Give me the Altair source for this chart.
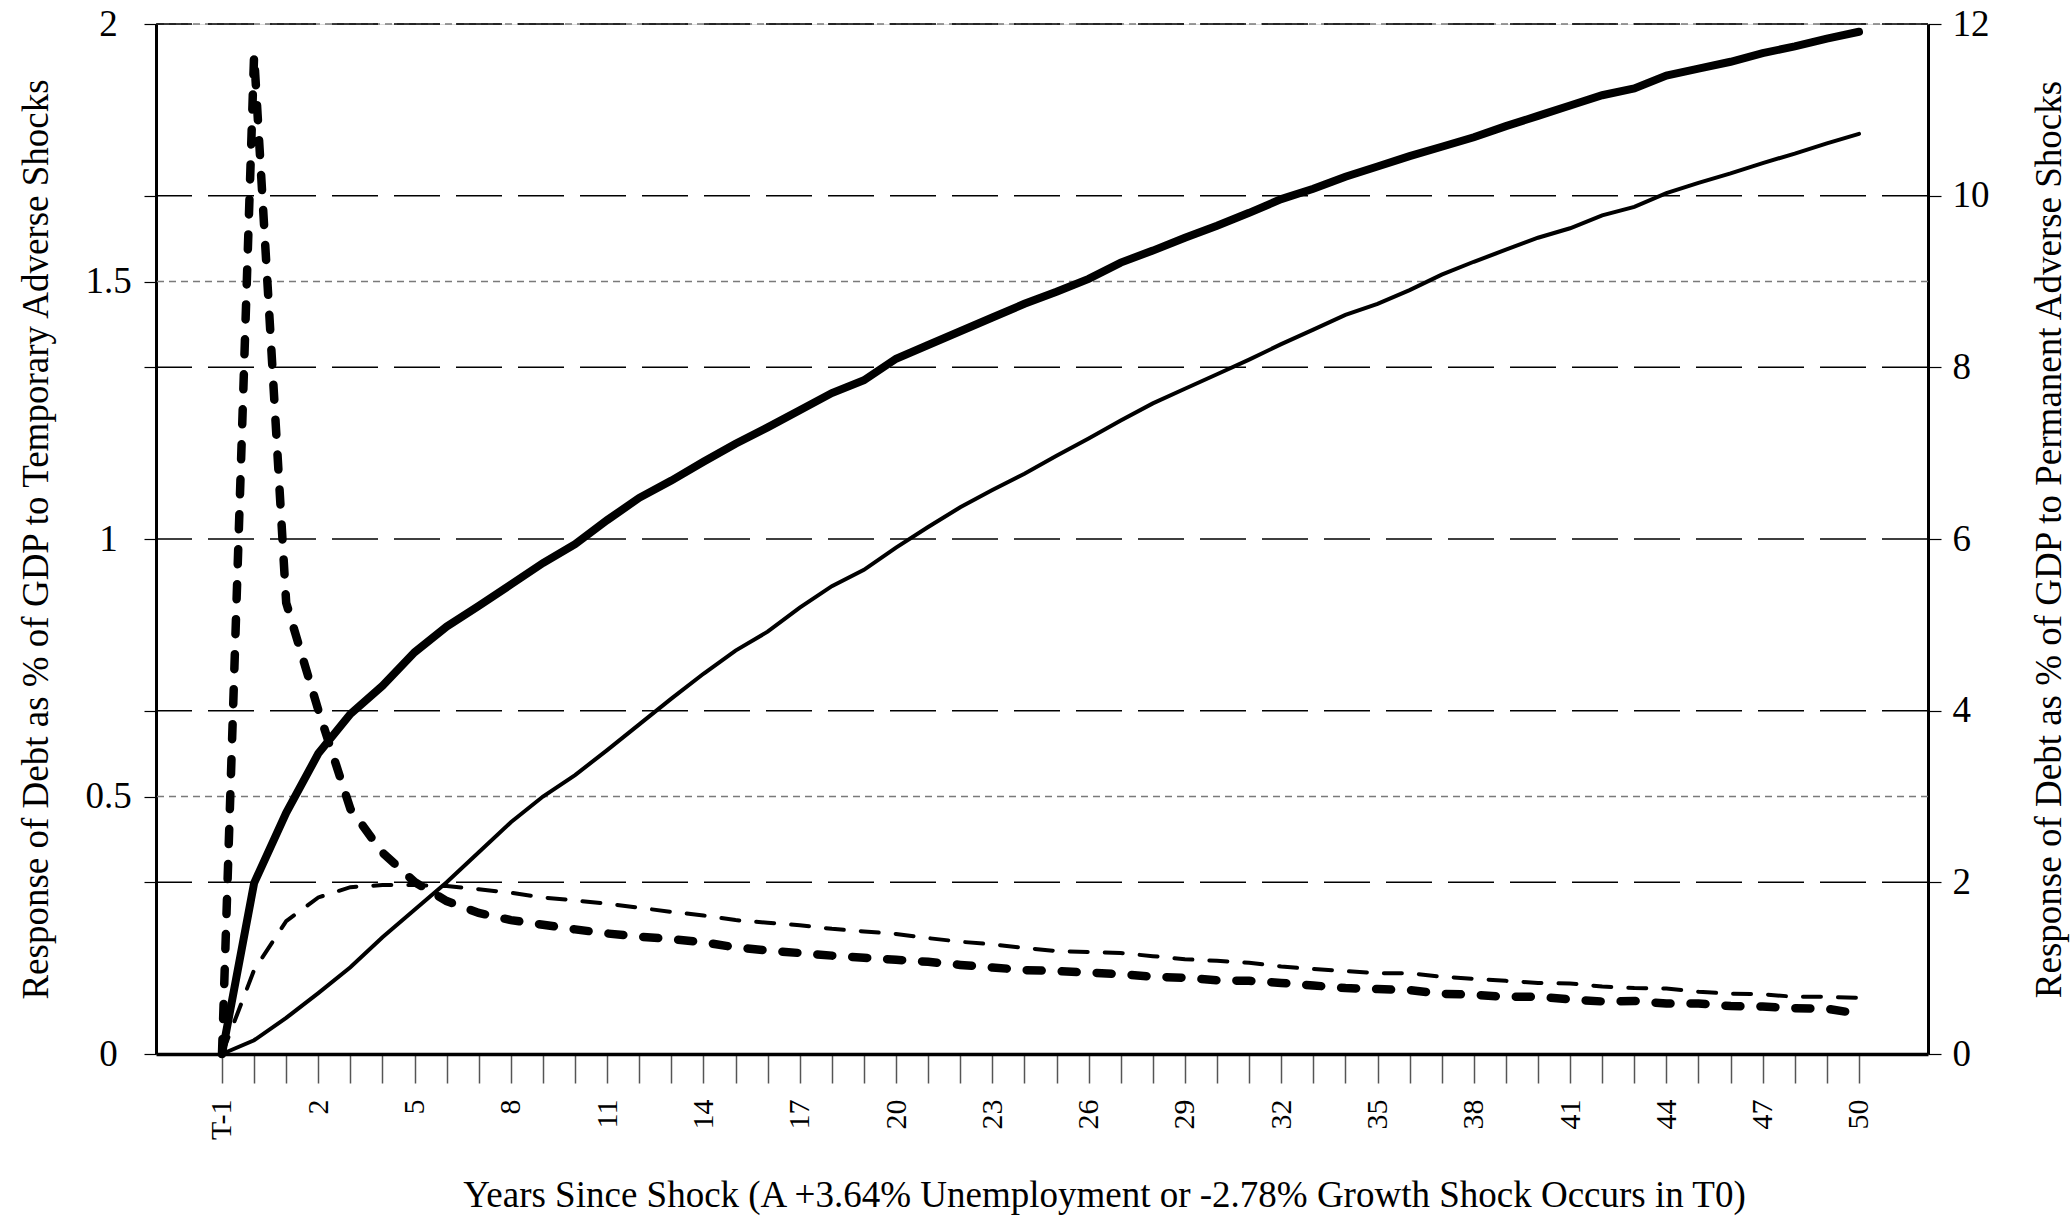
import json
import altair as alt
import pandas as pd

# Category labels along the horizontal axis (T-1, T0, then years 1..50)
categories = ["T-1", "T0", "1", "2", "3", "4", "5", "6", "7", "8", "9", "10",
              "11", "12", "13", "14", "15", "16", "17", "18", "19", "20",
              "21", "22", "23", "24", "25", "26", "27", "28", "29", "30",
              "31", "32", "33", "34", "35", "36", "37", "38", "39", "40",
              "41", "42", "43", "44", "45", "46", "47", "48", "49", "50"]

# Temporary shocks (left axis, % of GDP)
temp_heavy = [0, 1.94, 0.876, 0.668, 0.476, 0.391, 0.334, 0.297, 0.274, 0.260,
              0.251, 0.242, 0.234, 0.228, 0.223, 0.217, 0.207, 0.201, 0.196, 0.191,
              0.187, 0.183, 0.179, 0.173, 0.168, 0.163, 0.161, 0.158, 0.155, 0.150,
              0.148, 0.143, 0.142, 0.138, 0.133, 0.128, 0.126, 0.124, 0.117, 0.115,
              0.111, 0.111, 0.106, 0.102, 0.103, 0.098, 0.098, 0.093, 0.092, 0.089,
              0.088, 0.078]
temp_light = [0, 0.163, 0.258, 0.304, 0.324, 0.328, 0.328, 0.326, 0.320, 0.313,
              0.304, 0.298, 0.292, 0.284, 0.276, 0.269, 0.260, 0.255, 0.250, 0.243,
              0.238, 0.233, 0.225, 0.218, 0.213, 0.206, 0.200, 0.198, 0.196, 0.190,
              0.184, 0.181, 0.177, 0.170, 0.165, 0.161, 0.157, 0.157, 0.150, 0.146,
              0.142, 0.138, 0.137, 0.131, 0.128, 0.127, 0.121, 0.117, 0.116, 0.111,
              0.111, 0.109]

# Permanent shocks (right axis, % of GDP)
perm_heavy = [0, 1.99, 2.81, 3.50, 3.96, 4.29, 4.68, 4.98, 5.22, 5.47,
              5.72, 5.94, 6.22, 6.48, 6.68, 6.90, 7.11, 7.30, 7.50, 7.70,
              7.85, 8.10, 8.26, 8.42, 8.58, 8.74, 8.88, 9.03, 9.22, 9.36,
              9.51, 9.65, 9.80, 9.96, 10.08, 10.22, 10.34, 10.46, 10.57, 10.68,
              10.81, 10.93, 11.05, 11.17, 11.25, 11.40, 11.48, 11.56, 11.66, 11.74,
              11.83, 11.91]
perm_light = [0, 0.16, 0.42, 0.71, 1.01, 1.36, 1.68, 2.00, 2.35, 2.70,
              3.00, 3.25, 3.54, 3.84, 4.14, 4.43, 4.70, 4.92, 5.20, 5.45,
              5.64, 5.90, 6.14, 6.37, 6.57, 6.76, 6.97, 7.17, 7.38, 7.58,
              7.75, 7.92, 8.09, 8.27, 8.44, 8.61, 8.74, 8.90, 9.08, 9.23,
              9.37, 9.51, 9.62, 9.77, 9.87, 10.03, 10.15, 10.26, 10.38, 10.49,
              10.61, 10.72]

left_ticks = [0, 1 / 3, 0.5, 2 / 3, 1, 4 / 3, 1.5, 5 / 3, 2]
left_grid = [0.5, 1.5, 2]
right_ticks = [0, 2, 4, 6, 8, 10, 12]
right_grid = [2, 4, 6, 8, 10, 12]

FONT = "Liberation Serif"
X_TITLE = "Years Since Shock (A +3.64% Unemployment or -2.78% Growth Shock Occurs in T0)"
LEFT_TITLE = "Response of Debt as % of GDP to Temporary Adverse Shocks"
RIGHT_TITLE = "Response of Debt as % of GDP to Permanent Adverse Shocks"

W, H = 1772, 1030

idx = list(range(len(categories)))
df = pd.DataFrame({
    "idx": idx * 4,
    "value": temp_heavy + temp_light + perm_heavy + perm_light,
    "series": (["temp_heavy"] * len(idx) + ["temp_light"] * len(idx)
               + ["perm_heavy"] * len(idx) + ["perm_light"] * len(idx)),
})

left_scale = alt.Scale(domain=[0, 2], nice=False, zero=True)
right_scale = alt.Scale(domain=[0, 12], nice=False, zero=True)

x_label_expr = f"datum.value % 3 == 0 ? {json.dumps(categories)}[datum.value] : ''"

x_enc = alt.X(
    "idx:Q",
    scale=alt.Scale(domain=[-2.056, 53.15], nice=False, zero=False),
    axis=alt.Axis(
        values=idx, labelExpr=x_label_expr, labelAngle=270, labelAlign="right",
        labelBaseline="middle", labelFontSize=30, labelFont=FONT, labelColor="black",
        labelPadding=16, labelOverlap=False, labelFlush=False,
        tickSize=29, tickColor="#555555", tickWidth=1.5,
        domainColor="black", domainWidth=3.5, grid=False,
        title=X_TITLE, titleFont=FONT, titleFontSize=37, titleFontWeight="normal",
        titleColor="black", titleX=948, titleY=141, titleAlign="center",
        titleBaseline="middle",
    ),
)

left_axis = alt.Axis(
    orient="left", values=left_ticks,
    labelExpr="abs(datum.value * 2 - round(datum.value * 2)) < 0.000001 ? toString(round(datum.value * 2) / 2) : ''",
    labelAlign="center", labelBaseline="middle", labelPadding=36,
    labelFont=FONT, labelFontSize=37, labelColor="black",
    tickSize=12, tickColor="black", tickWidth=1.2,
    domainColor="black", domainWidth=3, grid=False,
    title=LEFT_TITLE, titleFont=FONT, titleFontSize=37, titleFontWeight="normal",
    titleColor="black", titleAngle=270, titleX=-120, titleY=H / 2,
    titleAlign="center", titleBaseline="middle",
)

right_axis = alt.Axis(
    orient="right", values=right_ticks, format="d",
    labelAlign="left", labelBaseline="middle", labelPadding=11,
    labelFont=FONT, labelFontSize=37, labelColor="black",
    tickSize=13, tickColor="black", tickWidth=1.2,
    domainColor="black", domainWidth=3, grid=False,
    title=RIGHT_TITLE, titleFont=FONT, titleFontSize=37, titleFontWeight="normal",
    titleColor="black", titleAngle=270, titleX=121, titleY=H / 2,
    titleAlign="center", titleBaseline="middle",
)

# Gridlines: short grey dashes on the left-axis steps, long black dashes on the right-axis steps
grid_left = alt.Chart(pd.DataFrame({"g": left_grid})).mark_rule(
    color="#7a7a7a", strokeWidth=1.5, strokeDash=[7, 5]
).encode(y=alt.Y("g:Q", scale=left_scale, axis=None))

grid_right = alt.Chart(pd.DataFrame({"g": right_grid})).mark_rule(
    color="black", strokeWidth=1.5, strokeDash=[46, 16]
).encode(y=alt.Y("g:Q", scale=right_scale, axis=None))

base = alt.Chart(df)

line_temp_light = base.transform_filter(alt.datum.series == "temp_light").mark_line(
    color="black", strokeWidth=4, strokeDash=[18, 17], strokeCap="round"
).encode(x=x_enc, y=alt.Y("value:Q", scale=left_scale, axis=left_axis))

line_temp_heavy = base.transform_filter(alt.datum.series == "temp_heavy").mark_line(
    color="black", strokeWidth=8.5, strokeDash=[15, 20], strokeCap="round"
).encode(x=x_enc, y=alt.Y("value:Q", scale=left_scale, axis=None))

line_perm_light = base.transform_filter(alt.datum.series == "perm_light").mark_line(
    color="black", strokeWidth=4, strokeCap="round"
).encode(x=x_enc, y=alt.Y("value:Q", scale=right_scale, axis=right_axis))

line_perm_heavy = base.transform_filter(alt.datum.series == "perm_heavy").mark_line(
    color="black", strokeWidth=8, strokeCap="round"
).encode(x=x_enc, y=alt.Y("value:Q", scale=right_scale, axis=None))

chart = alt.layer(
    grid_left, grid_right, line_temp_light, line_temp_heavy, line_perm_light, line_perm_heavy
).resolve_scale(
    y="independent"
).properties(
    width=W, height=H,
    autosize=alt.AutoSizeParams(type="none"),
    padding={"left": 156, "top": 24, "right": 143, "bottom": 165},
    background="white",
).configure_view(
    stroke=None
).configure(
    font=FONT
)

chart.save("out.html", embed_options={"renderer": "svg", "actions": False})
